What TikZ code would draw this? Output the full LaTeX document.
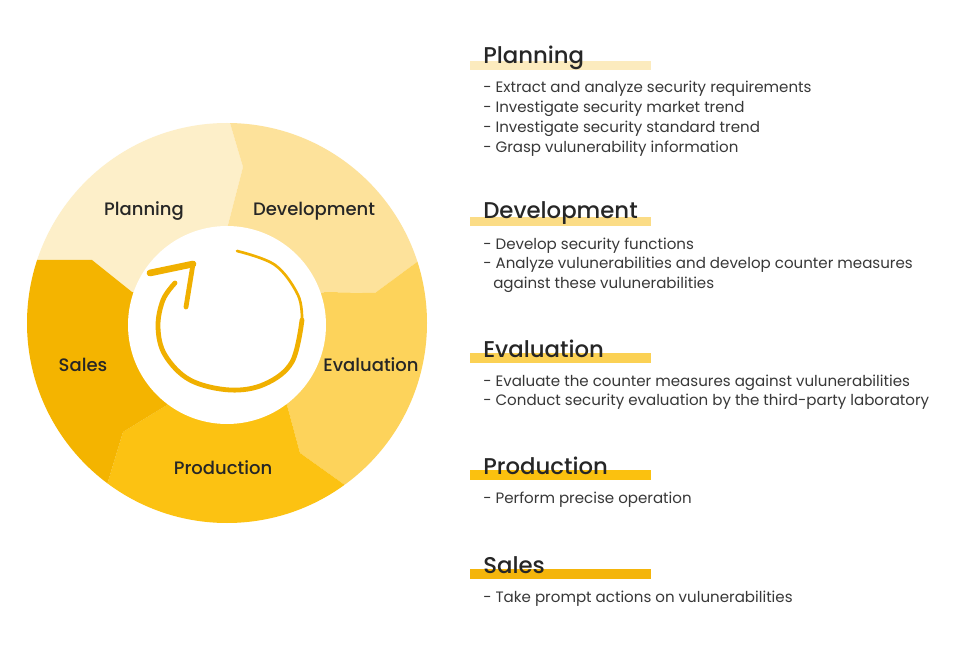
\documentclass[tikz,border=0pt]{standalone}
\usepackage{fontspec}
\setmainfont{Poppins}
\newfontfamily\headfont{Poppins}[UprightFont={* Medium}]
\begin{document}
\begin{tikzpicture}[x=0.75pt,y=-0.75pt,
  heading/.style={anchor=base west,inner sep=0pt,text=black!85,font=\headfont\fontsize{17.1}{20}\selectfont},
  bullet/.style={anchor=base west,inner sep=0pt,text=black!78,font=\fontsize{11.3}{13}\selectfont},
  seglabel/.style={anchor=base,inner sep=0pt,text=black!85,font=\headfont\fontsize{13.5}{16}\selectfont},
  arrowline/.style={draw=arrowc,line cap=round,line join=round}]
\definecolor{cPlan}{HTML}{FDEFC9}
\definecolor{cDev}{HTML}{FDE29B}
\definecolor{cEval}{HTML}{FDD35B}
\definecolor{cProd}{HTML}{FCC212}
\definecolor{cSales}{HTML}{F4B400}
\definecolor{bPlan}{HTML}{FCEBBE}
\definecolor{bDev}{HTML}{FBDC86}
\definecolor{bEval}{HTML}{FBD154}
\definecolor{bProd}{HTML}{FBC10F}
\definecolor{bSales}{HTML}{F4B50B}
\definecolor{arrowc}{HTML}{F0B000}
\useasboundingbox (0,0) rectangle (960,645);
\fill[white] (0,0) rectangle (960,645);
% centre
\coordinate (C) at (227,323);
% boundaries: inner, kink, outer, far
\coordinate (a1) at (228,225); \coordinate (k1) at (243,167); \coordinate (o1) at (230,123); \coordinate (f1) at (222,60);
\coordinate (a2) at (325,292); \coordinate (k2) at (375,293); \coordinate (o2) at (417,262); \coordinate (f2) at (480,215);
\coordinate (a3) at (287,405); \coordinate (k3) at (300,453); \coordinate (o3) at (342,483); \coordinate (f3) at (426,543);
\coordinate (a4) at (167,405); \coordinate (k4) at (123,432); \coordinate (o4) at (110,475); \coordinate (f4) at (84,561);
\coordinate (a5) at (132,292); \coordinate (k5) at (92,260);  \coordinate (o5) at (35,260);  \coordinate (f5) at (-30,260);
\begin{scope}
\clip (C) circle[radius=200];
\fill[cPlan] (C) -- (a5) -- (k5) -- (o5) -- (f5) -- (-30,-50) -- (222,-50) -- (f1) -- (o1) -- (k1) -- (a1) -- cycle;
\fill[cDev] (C) -- (a1) -- (k1) -- (o1) -- (f1) -- (222,-50) -- (560,-50) -- (560,215) -- (f2) -- (o2) -- (k2) -- (a2) -- cycle;
\fill[cEval] (C) -- (a2) -- (k2) -- (o2) -- (f2) -- (560,215) -- (560,620) -- (426,620) -- (f3) -- (o3) -- (k3) -- (a3) -- cycle;
\fill[cProd] (C) -- (a3) -- (k3) -- (o3) -- (f3) -- (426,620) -- (84,620) -- (f4) -- (o4) -- (k4) -- (a4) -- cycle;
\fill[cSales] (C) -- (a4) -- (k4) -- (o4) -- (f4) -- (84,620) -- (-30,620) -- (f5) -- (o5) -- (k5) -- (a5) -- cycle;
\end{scope}
\fill[white] (227,325) circle[radius=99];
% cycle arrow
\draw[arrowline,line width=2pt] plot[smooth,tension=0.6] coordinates {(237,251) (275,265) (298,295) (302,320)};
\draw[arrowline,line width=3.6pt] plot[smooth,tension=0.6] coordinates {(302,320) (292,362) (265,384) (230,390) (190,380) (165,355) (158,327) (163,300) (175,283)};
\draw[arrowline,line width=5pt] (150,273) -- (193,264);
\draw[arrowline,line width=3.6pt] (193,264) -- (186,307);
% segment labels
\node[seglabel] (lplan) at (144,216) {Planning};
\node[seglabel] (ldev) at (314,216) {Development};
\node[seglabel] (lsales) at (83,371) {Sales};
\node[seglabel] (leval) at (371,371) {Evaluation};
\node[seglabel] (lprod) at (223,474) {Production};
% right column
\fill[bPlan] (470,61) rectangle (651,70);
\node[heading] (hplan) at (483,64) {Planning};
\node[bullet] (p1) at (483,93) {- Extract and analyze security requirements};
\node[bullet] (p2) at (483,113) {- Investigate security market trend};
\node[bullet] (p3) at (483,133) {- Investigate security standard trend};
\node[bullet] (p4) at (483,153) {- Grasp vulunerability information};
\fill[bDev] (470,217) rectangle (651,226);
\node[heading] (hdev) at (483,219) {Development};
\node[bullet] (d1) at (483,250) {- Develop security functions};
\node[bullet] (d2) at (483,269) {- Analyze vulunerabilities and develop counter measures};
\node[bullet] (d3) at (493,288) {against these vulunerabilities};
\fill[bEval] (470,353) rectangle (651,363);
\node[heading] (heval) at (483,357) {Evaluation};
\node[bullet] (e1) at (483,386) {- Evaluate the counter measures against vulunerabilities};
\node[bullet] (e2) at (483,405) {- Conduct security evaluation by the third-party laboratory};
\fill[bProd] (470,470) rectangle (651,480);
\node[heading] (hprod) at (483,474) {Production};
\node[bullet] (r1) at (483,503) {- Perform precise operation};
\fill[bSales] (470,569) rectangle (651,579);
\node[heading] (hsales) at (483,573) {Sales};
\node[bullet] (s1) at (483,602) {- Take prompt actions on vulunerabilities};
\end{tikzpicture}
\end{document}
